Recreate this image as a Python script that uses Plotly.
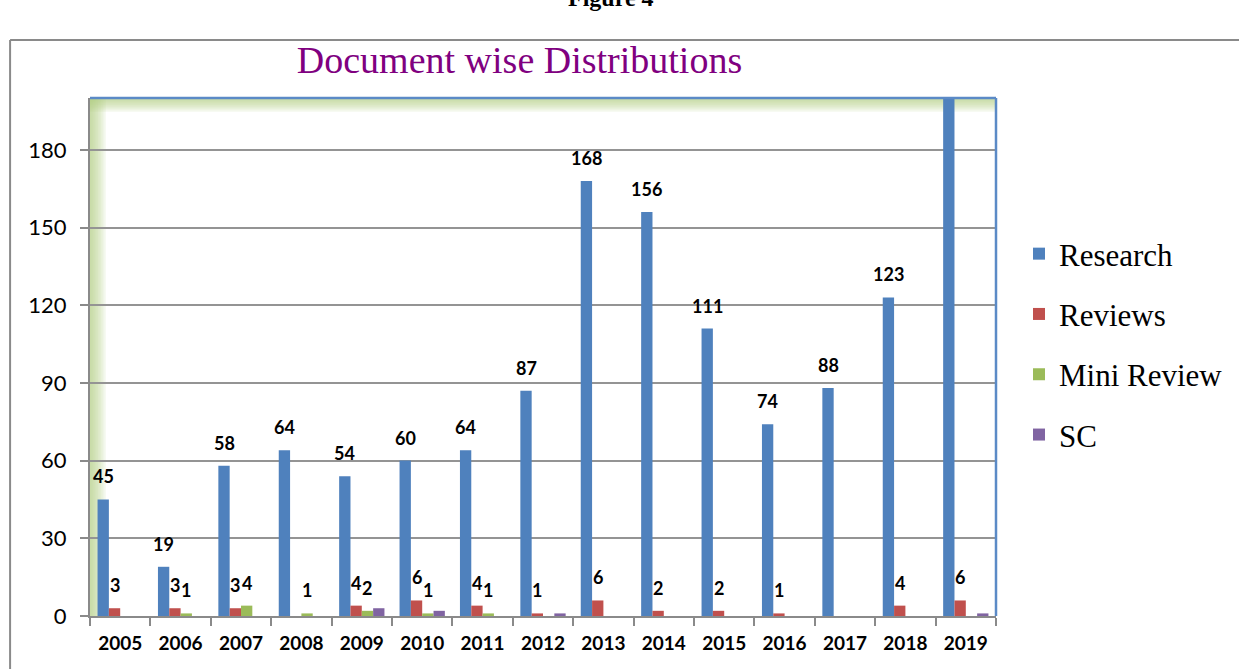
import plotly.graph_objects as go

years = ["2005", "2006", "2007", "2008", "2009", "2010", "2011", "2012",
         "2013", "2014", "2015", "2016", "2017", "2018", "2019"]
# 2019 Research bar runs off the top of the axis in the source (value estimated)
research = [45, 19, 58, 64, 54, 60, 64, 87, 168, 156, 111, 74, 88, 123, 212]
reviews = [3, 3, 3, 0, 4, 6, 4, 1, 6, 2, 2, 1, 0, 4, 6]
mini_review = [0, 1, 4, 1, 2, 1, 1, 0, 0, 0, 0, 0, 0, 0, 0]
sc = [0, 0, 0, 0, 3, 2, 0, 1, 0, 0, 0, 0, 0, 0, 1]

y_ticks = [0, 30, 60, 90, 120, 150, 180]
Y_MAX = 200
BARGAP = 0.25

series = [
    ("Research", research, "#4F81BD", True),
    ("Reviews", reviews, "#C0504D", True),
    ("Mini Review", mini_review, "#9BBB59", True),
    ("SC", sc, "#8064A2", False),
]

LABEL_FONT = dict(family="Lato", size=18, color="black", weight="bold")

fig = go.Figure()
annotations = []
nser = len(series)
slot = (1 - BARGAP) / nser
for i, (name, vals, color, labelled) in enumerate(series):
    fig.add_trace(go.Bar(
        x=years, y=vals, name=name, marker_color=color,
        marker_line_width=0, legendgroup=f"g{i}",
        hoverinfo="x+y+name",
    ))
    if labelled:
        off = (i - (nser - 1) / 2) * slot
        for j, v in enumerate(vals):
            if 0 < v <= Y_MAX:
                annotations.append(dict(
                    x=j + off, y=v, xref="x", yref="y", text=str(v),
                    showarrow=False, xanchor="center", yanchor="middle",
                    yshift=23, font=LABEL_FONT))

# plot-area pixel geometry (for paper-coordinate decorations)
W, H = 1239, 669
L, R, T, B = 90, 242, 98, 53
pw, ph = W - L - R, H - T - B


def px(x):
    return (x - L) / pw


def py(y):
    return (H - B - y) / ph


shapes = []
# soft green gradient on left and top edges of plot area
n = 10
for k in range(n):
    shapes.append(dict(type="rect", xref="paper", yref="paper",
                       x0=0, x1=px(L + 16 * (k + 1) / n), y0=0, y1=1,
                       fillcolor="#B3CB84", opacity=0.1, line_width=0,
                       layer="below"))
    shapes.append(dict(type="rect", xref="paper", yref="paper",
                       x0=0, x1=1, y0=py(T + 14 * (k + 1) / n), y1=1,
                       fillcolor="#B3CB84", opacity=0.1, line_width=0,
                       layer="below"))
# plot area border (blue top / right)
shapes.append(dict(type="line", xref="paper", yref="paper", x0=0, x1=1, y0=1, y1=1,
                   line=dict(color="#5B8AC6", width=2.5)))
shapes.append(dict(type="line", xref="paper", yref="paper", x0=1, x1=1, y0=0, y1=1,
                   line=dict(color="#5B8AC6", width=2.5)))
# outer chart border
shapes.append(dict(type="line", xref="paper", yref="paper",
                   x0=px(10), x1=px(1245), y0=py(40), y1=py(40),
                   line=dict(color="#8A8A8A", width=2)))
shapes.append(dict(type="line", xref="paper", yref="paper",
                   x0=px(10), x1=px(10), y0=py(40), y1=py(680),
                   line=dict(color="#8A8A8A", width=2)))

annotations.append(
    dict(text="Figure 4", xref="paper", yref="paper", x=px(612), y=py(-2),
         xanchor="center", yanchor="middle", showarrow=False,
         font=dict(family="Liberation Serif", size=24, color="black", weight="bold")))

fig.update_layout(
    width=W, height=H,
    margin=dict(l=L, r=R, t=T, b=B, pad=0),
    paper_bgcolor="white", plot_bgcolor="white",
    barmode="group", bargap=BARGAP, bargroupgap=0,
    title=dict(text="Document wise Distributions", xref="paper", x=px(520),
               xanchor="center", y=1 - 60 / H, yanchor="middle",
               font=dict(family="Liberation Serif", size=38, color="#800080")),
    xaxis=dict(type="category", tickson="boundaries", ticks="outside", ticklen=8,
               tickcolor="#8A8A8A", tickwidth=2,
               showline=True, linecolor="#8A8A8A", linewidth=2,
               showgrid=False, ticklabelstandoff=9,
               tickfont=dict(family="Lato", size=19, color="black", weight="bold")),
    yaxis=dict(range=[0, Y_MAX], tickvals=y_ticks, ticks="outside", ticklen=8,
               tickcolor="#8A8A8A", tickwidth=2,
               showline=True, linecolor="#8A8A8A", linewidth=2,
               showgrid=True, gridcolor="#949494", gridwidth=2,
               zeroline=False, ticklabelstandoff=9,
               tickfont=dict(family="Lato", size=22, color="black")),
    legend=dict(x=px(1019), xanchor="left", y=py(227), yanchor="top",
                traceorder="grouped", tracegroupgap=17,
                font=dict(family="Liberation Serif", size=31, color="black"),
                bgcolor="rgba(0,0,0,0)"),
    shapes=shapes, annotations=annotations,
    showlegend=True,
)

fig.write_html("out.html", config={"displayModeBar": False},
               post_script="document.body.style.margin='0';")
